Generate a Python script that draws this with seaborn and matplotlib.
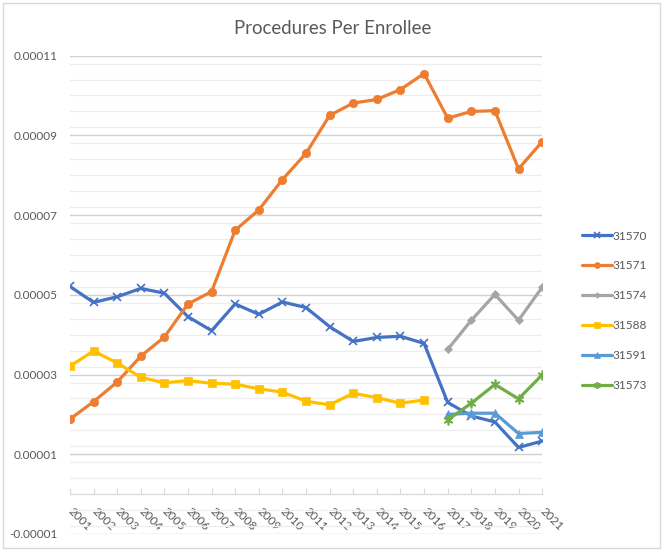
import numpy as np
import pandas as pd
import seaborn as sns
import matplotlib.pyplot as plt
from matplotlib.ticker import MultipleLocator, FormatStrFormatter
from matplotlib.patches import Rectangle

years = list(range(2001, 2022))

s31570 = [5.21e-5, 4.81e-5, 4.95e-5, 5.16e-5, 5.04e-5, 4.45e-5, 4.10e-5, 4.77e-5, 4.51e-5, 4.82e-5,
          4.68e-5, 4.20e-5, 3.83e-5, 3.93e-5, 3.96e-5, 3.78e-5, 2.30e-5, 1.96e-5, 1.81e-5, 1.17e-5, 1.33e-5]
s31571 = [1.88e-5, 2.32e-5, 2.81e-5, 3.46e-5, 3.94e-5, 4.77e-5, 5.08e-5, 6.62e-5, 7.13e-5, 7.89e-5,
          8.55e-5, 9.50e-5, 9.81e-5, 9.90e-5, 1.015e-4, 1.055e-4, 9.43e-5, 9.60e-5, 9.62e-5, 8.16e-5, 8.84e-5]
s31574 = [None] * 16 + [3.63e-5, 4.36e-5, 5.01e-5, 4.36e-5, 5.19e-5]
s31588 = [3.21e-5, 3.59e-5, 3.29e-5, 2.93e-5, 2.79e-5, 2.85e-5, 2.78e-5, 2.76e-5, 2.64e-5, 2.56e-5,
          2.33e-5, 2.24e-5, 2.53e-5, 2.42e-5, 2.28e-5, 2.36e-5] + [None] * 5
s31591 = [None] * 16 + [2.00e-5, 2.03e-5, 2.03e-5, 1.52e-5, 1.55e-5]
s31573 = [None] * 16 + [1.86e-5, 2.28e-5, 2.75e-5, 2.39e-5, 2.99e-5]

series_names = ["31570", "31571", "31574", "31588", "31591", "31573"]
colors = ["#4472C4", "#ED7D31", "#A5A5A5", "#FFC000", "#5B9BD5", "#70AD47"]
markers = ["x", "o", "D", "s", "^", (6, 2, 0)]
msizes = [6, 6, 4, 6, 6, 7]

wide = pd.DataFrame({"Year": years, "31570": s31570, "31571": s31571, "31574": s31574,
                     "31588": s31588, "31591": s31591, "31573": s31573})
long = wide.melt(id_vars="Year", var_name="Code", value_name="Value").dropna()

sns.set_style("white")
plt.rcParams["font.family"] = ["Lato", "DejaVu Sans"]

fig = plt.figure(figsize=(6.66, 5.53), dpi=100)
ax = fig.add_axes([0.105, 0.0344, 0.709, 0.865])

for name, c, m, ms in zip(series_names, colors, markers, msizes):
    sub = long[long["Code"] == name]
    sns.lineplot(data=sub, x="Year", y="Value", color=c, marker=m, markersize=ms,
                 markeredgecolor=c, markeredgewidth=1.2 if m in ("x", (6, 2, 0)) else 0.5,
                 linewidth=2.3, label=name, ax=ax)

ax.set_xlim(2001, 2021)
ax.set_ylim(-0.00001, 0.00011)
ax.yaxis.set_minor_locator(MultipleLocator(0.000004))
ax.set_yticks(np.arange(-0.00001, 0.000111, 0.00002))
ax.yaxis.set_major_formatter(FormatStrFormatter("%.5f"))
ax.grid(which="major", axis="y", color="#D0D0D0", linewidth=1.0)
ax.grid(which="minor", axis="y", color="#EDEDED", linewidth=0.9)
ax.set_axisbelow(True)
ax.tick_params(axis="y", which="both", length=0, labelsize=8.5, labelcolor="#595959", pad=9)

ax.set_xticks(years)
ax.set_xticklabels([str(y) for y in years])
ax.spines["bottom"].set_position(("data", 0))
ax.spines["bottom"].set_color("#D9D9D9")
for s in ["left", "top", "right"]:
    ax.spines[s].set_visible(False)
ax.tick_params(axis="x", direction="in", length=4, color="#D9D9D9", labelsize=8.5,
               labelcolor="#595959", pad=11, bottom=True)
for lbl in ax.get_xticklabels():
    lbl.set_rotation(-45)
    lbl.set_ha("left")
    lbl.set_va("center")
    lbl.set_rotation_mode("anchor")

ax.set_xlabel("")
ax.set_ylabel("")
fig.text(0.5, 0.948, "Procedures Per Enrollee", ha="center", va="center", fontsize=13.4, color="#595959")

ax.legend(loc="upper left", bbox_to_anchor=(0.862, 0.598), bbox_transform=fig.transFigure,
          frameon=False, fontsize=8.5, handlelength=2.5, handletextpad=0.05, labelspacing=1.6,
          labelcolor="#595959", markerscale=0.7, borderpad=0.2)

fig.patches.append(Rectangle((0.005, 0.009), 0.986, 0.985, transform=fig.transFigure,
                             fill=False, edgecolor="#D9D9D9", linewidth=1.0))

fig.savefig("out.png", dpi=100)
